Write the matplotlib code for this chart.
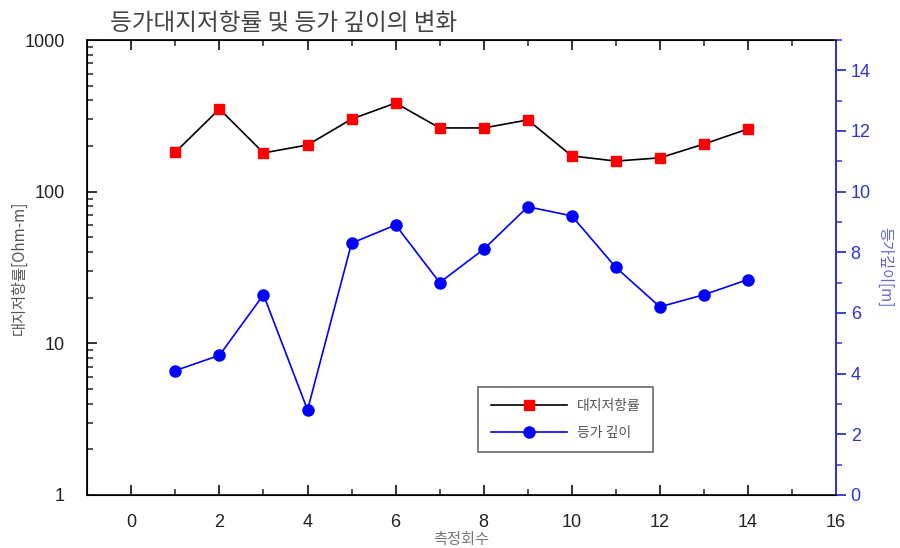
import matplotlib
matplotlib.use('Agg')
import matplotlib.pyplot as plt
from matplotlib.ticker import MultipleLocator, FixedLocator, NullFormatter, LogLocator

plt.rcParams['font.family'] = ['Liberation Sans', 'Noto Sans CJK KR', 'DejaVu Sans']

# measurement rounds and the two measured series
rounds = [1, 2, 3, 4, 5, 6, 7, 8, 9, 10, 11, 12, 13, 14]
resistivity = [182, 351, 180, 203, 301, 384, 263, 263, 297, 172, 159, 167, 206, 259]
depth = [4.1, 4.6, 6.6, 2.8, 8.3, 8.9, 7.0, 8.1, 9.5, 9.2, 7.5, 6.2, 6.6, 7.1]

kr = ['Noto Sans CJK KR', 'DejaVu Sans']

fig = plt.figure(figsize=(9, 5.48), dpi=100)
ax = fig.add_axes([0.097, 0.097, 0.832, 0.83])

l1, = ax.plot(rounds, resistivity, color='black', lw=1.2, marker='s',
              markersize=7, markerfacecolor='red', markeredgecolor='red',
              label='대지저항률')
ax.set_yscale('log')
ax.set_ylim(1, 1000)
ax.set_xlim(-1, 16)
ax.xaxis.set_major_locator(MultipleLocator(2))
ax.xaxis.set_minor_locator(MultipleLocator(1))
ax.yaxis.set_major_locator(FixedLocator([1, 10, 100, 1000]))
ax.yaxis.set_minor_locator(LogLocator(base=10, subs=range(2, 10)))
ax.yaxis.set_minor_formatter(NullFormatter())
ax.set_yticklabels(['1', '10', '100', '1000'])
ax.tick_params(axis='both', which='major', direction='in', length=7, width=1.3,
               labelsize=13, top=True, colors='#222222')
ax.tick_params(axis='both', which='minor', direction='in', length=4, width=1.1,
               top=True, colors='#222222')
ax.tick_params(axis='x', which='major', pad=14)
ax.tick_params(axis='y', which='major', pad=16)
ax.tick_params(axis='y', which='both', right=False)
for s in ax.spines.values():
    s.set_linewidth(1.4)
    s.set_color('#222222')
ax.set_xlabel('측정회수', family=kr, fontsize=11, color='#777777', labelpad=0)
ax.set_ylabel('대지저항률[Ohm-m]', family=kr, fontsize=11, color='#555555')
ax.yaxis.set_label_coords(-0.08, 0.5)

ax2 = ax.twinx()
l2, = ax2.plot(rounds, depth, color='blue', lw=1.2, marker='o', markersize=8,
               markerfacecolor='blue', markeredgecolor='blue', label='등가 깊이')
ax2.set_ylim(0, 15)
ax2.yaxis.set_major_locator(FixedLocator([0, 2, 4, 6, 8, 10, 12, 14]))
ax2.yaxis.set_minor_locator(MultipleLocator(1))
ax2.tick_params(axis='y', which='major', direction='out', length=7, width=1.3,
                colors='#3333cc', labelsize=13)
ax2.tick_params(axis='y', which='minor', direction='out', length=4, width=1.1,
                colors='#3333cc')
ax2.spines['right'].set_color('#3333dd')
ax2.spines['right'].set_linewidth(1.4)
ax2.set_ylabel('등가깊이[m]', family=kr, fontsize=11, color='#6666cc',
               rotation=270, labelpad=16)

leg = ax.legend([l1, l2], ['대지저항률', '등가 깊이'], loc='lower left',
                bbox_to_anchor=(0.522, 0.094), prop={'family': kr, 'size': 10},
                fancybox=False, edgecolor='#444444', handlelength=5.5,
                handletextpad=0.7, borderpad=0.9, labelspacing=0.9,
                borderaxespad=0)
leg.get_frame().set_linewidth(1.2)
for t in leg.get_texts():
    t.set_color('#555555')

fig.text(0.122, 0.958, '등가대지저항률 및 등가 깊이의 변화', family=kr, fontsize=17,
         fontweight='light', color='#444444', va='center')

fig.savefig('out.png', dpi=100)
